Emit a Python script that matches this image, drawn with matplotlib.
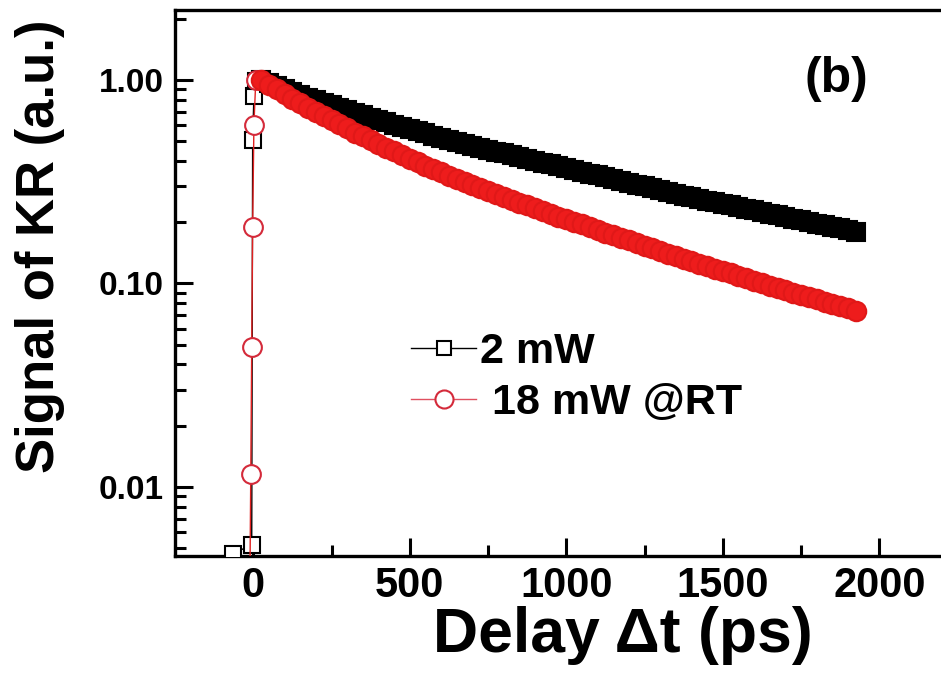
import matplotlib
matplotlib.use("Agg")
import matplotlib.pyplot as plt
from matplotlib.ticker import FixedLocator, LogLocator, NullFormatter, FixedFormatter, MultipleLocator

plt.rcParams['font.family'] = ['Liberation Sans', 'DejaVu Sans']
plt.rcParams['font.weight'] = 'bold'

# ---------------- data ----------------
delay_2mw = [-65, -5, -2, 2, 8,
             25, 50, 75, 100, 125, 150, 175, 200, 225, 250, 275, 300, 325, 350, 375, 400,
             425, 450, 475, 500, 525, 550, 575, 600, 625, 650, 675, 700, 725, 750, 775, 800,
             825, 850, 875, 900, 925, 950, 975, 1000, 1025, 1050, 1075, 1100, 1125, 1150, 1175, 1200,
             1225, 1250, 1275, 1300, 1325, 1350, 1375, 1400, 1425, 1450, 1475, 1500, 1525, 1550, 1575, 1600,
             1625, 1650, 1675, 1700, 1725, 1750, 1775, 1800, 1825, 1850, 1875, 1900, 1925]
kr_2mw = [0.0047, 0.0052, 0.51, 0.83, 0.99,
          1.000, 0.966, 0.933, 0.902, 0.873, 0.845, 0.820, 0.796, 0.773, 0.750, 0.729, 0.710, 0.690, 0.671, 0.653, 0.635,
          0.619, 0.604, 0.589, 0.574, 0.560, 0.546, 0.532, 0.519, 0.507, 0.495, 0.484, 0.473, 0.463, 0.454, 0.445, 0.436,
          0.427, 0.418, 0.409, 0.401, 0.393, 0.385, 0.377, 0.369, 0.361, 0.354, 0.347, 0.340, 0.333, 0.326, 0.319, 0.313,
          0.306, 0.300, 0.294, 0.288, 0.282, 0.276, 0.270, 0.265, 0.260, 0.255, 0.251, 0.246, 0.242, 0.237, 0.233, 0.229,
          0.224, 0.220, 0.216, 0.212, 0.208, 0.205, 0.201, 0.197, 0.194, 0.190, 0.187, 0.183, 0.180]

delay_18mw = [-12, -8, -5, -2, 2, 8,
              25, 50, 75, 100, 125, 150, 175, 200, 225, 250, 275, 300, 325, 350, 375, 400,
              425, 450, 475, 500, 525, 550, 575, 600, 625, 650, 675, 700, 725, 750, 775, 800,
              825, 850, 875, 900, 925, 950, 975, 1000, 1025, 1050, 1075, 1100, 1125, 1150, 1175, 1200,
              1225, 1250, 1275, 1300, 1325, 1350, 1375, 1400, 1425, 1450, 1475, 1500, 1525, 1550, 1575, 1600,
              1625, 1650, 1675, 1700, 1725, 1750, 1775, 1800, 1825, 1850, 1875, 1900, 1925]
kr_18mw = [0.002, 0.0116, 0.0488, 0.19, 0.60, 1.0,
           1.000, 0.948, 0.899, 0.853, 0.809, 0.767, 0.731, 0.697, 0.664, 0.634, 0.605, 0.578, 0.552, 0.528, 0.506, 0.484,
           0.465, 0.446, 0.428, 0.410, 0.394, 0.379, 0.365, 0.352, 0.339, 0.327, 0.316, 0.305, 0.294, 0.284, 0.275, 0.267,
           0.258, 0.250, 0.242, 0.234, 0.227, 0.220, 0.213, 0.207, 0.200, 0.195, 0.189, 0.183, 0.178, 0.173, 0.167, 0.163,
           0.158, 0.153, 0.149, 0.144, 0.140, 0.136, 0.132, 0.129, 0.125, 0.122, 0.118, 0.115, 0.112, 0.109, 0.106, 0.103,
           0.100, 0.0975, 0.0948, 0.0925, 0.0902, 0.0879, 0.0857, 0.0836, 0.0815, 0.0794, 0.0774, 0.0755, 0.0736]

label_2mw = "2 mW"
label_18mw = " 18 mW @RT"
x_ticks = [0, 500, 1000, 1500, 2000]
y_ticks = [0.01, 0.1, 1.0]
y_tick_labels = ["0.01", "0.10", "1.00"]

# number of points in the fast rise (drawn as isolated open markers)
n_rise_2mw = 5
n_rise_18mw = 6

# ---------------- figure ----------------
fig = plt.figure(figsize=(9.41, 6.75), dpi=100)
ax = fig.add_axes([0.186, 0.1763, 0.8316, 0.809])

# connecting lines
ax.plot(delay_2mw, kr_2mw, color='black', lw=1.0, zorder=2)
ax.plot(delay_18mw, kr_18mw, color='#e02020', lw=1.0, zorder=4)
# rise markers (open, thin edge)
ax.plot(delay_2mw[:n_rise_2mw], kr_2mw[:n_rise_2mw], ls='none', marker='s', ms=11.5,
        mfc='white', mec='black', mew=1.5, zorder=3)
ax.plot(delay_18mw[:n_rise_18mw], kr_18mw[:n_rise_18mw], ls='none', marker='o', ms=13.5,
        mfc='white', mec='#d42a3a', mew=1.5, zorder=5)
# decay markers (dense overlapping markers form a solid band)
ax.plot(delay_2mw[n_rise_2mw:], kr_2mw[n_rise_2mw:], ls='none', marker='s', ms=12.5,
        mfc='black', mec='black', mew=1.5, zorder=3)
ax.plot(delay_18mw[n_rise_18mw:], kr_18mw[n_rise_18mw:], ls='none', marker='o', ms=14,
        mfc='#ee1c1c', mec='#e01818', mew=1.5, zorder=5)

ax.set_yscale('log')
ax.set_xlim(-250, 2250)
ax.set_ylim(0.00458, 2.21)

ax.xaxis.set_major_locator(FixedLocator(x_ticks))
ax.xaxis.set_minor_locator(MultipleLocator(250))
ax.yaxis.set_major_locator(FixedLocator(y_ticks))
ax.yaxis.set_major_formatter(FixedFormatter(y_tick_labels))
ax.yaxis.set_minor_locator(LogLocator(base=10, subs=[2, 3, 4, 5, 6, 7, 8, 9]))
ax.yaxis.set_minor_formatter(NullFormatter())

ax.tick_params(axis='both', which='major', direction='in', length=13, width=2.2)
ax.tick_params(axis='both', which='minor', direction='in', length=8, width=2.2)
ax.tick_params(axis='x', which='both', top=False, labelsize=30, pad=7)
ax.tick_params(axis='y', which='both', right=False, labelsize=24, pad=8)
for lab in ax.get_xticklabels() + ax.get_yticklabels():
    lab.set_fontweight('bold')

for s in ax.spines.values():
    s.set_linewidth(2.4)

ax.set_xlabel("Delay \u0394t (ps)", fontsize=45, fontweight='bold')
ax.xaxis.set_label_coords(0.5725, -0.092)
ax.set_ylabel("Signal of KR (a.u.)", fontsize=38, fontweight='bold')
ax.yaxis.set_label_coords(-0.140, 0.568)

fig.text(0.855, 0.883, "(b)", fontsize=36, fontweight='bold', ha='left', va='center')

# legend proxies in the series styles
h1, = ax.plot([], [], color='black', lw=1.0, marker='s', ms=10.5, mfc='white', mec='black', mew=1.5)
h2, = ax.plot([], [], color='#e05060', lw=1.0, marker='o', ms=13, mfc='white', mec='#d42a3a', mew=1.5)
leg = ax.legend([h1, h2], [label_2mw, label_18mw], loc='upper left',
                bbox_to_anchor=(0.437, 0.508), bbox_transform=fig.transFigure,
                frameon=False, fontsize=31, handlelength=1.5, handletextpad=0.1,
                labelspacing=0.25, borderpad=0.0, borderaxespad=0.0, numpoints=1)

fig.savefig("out.png", dpi=100)
